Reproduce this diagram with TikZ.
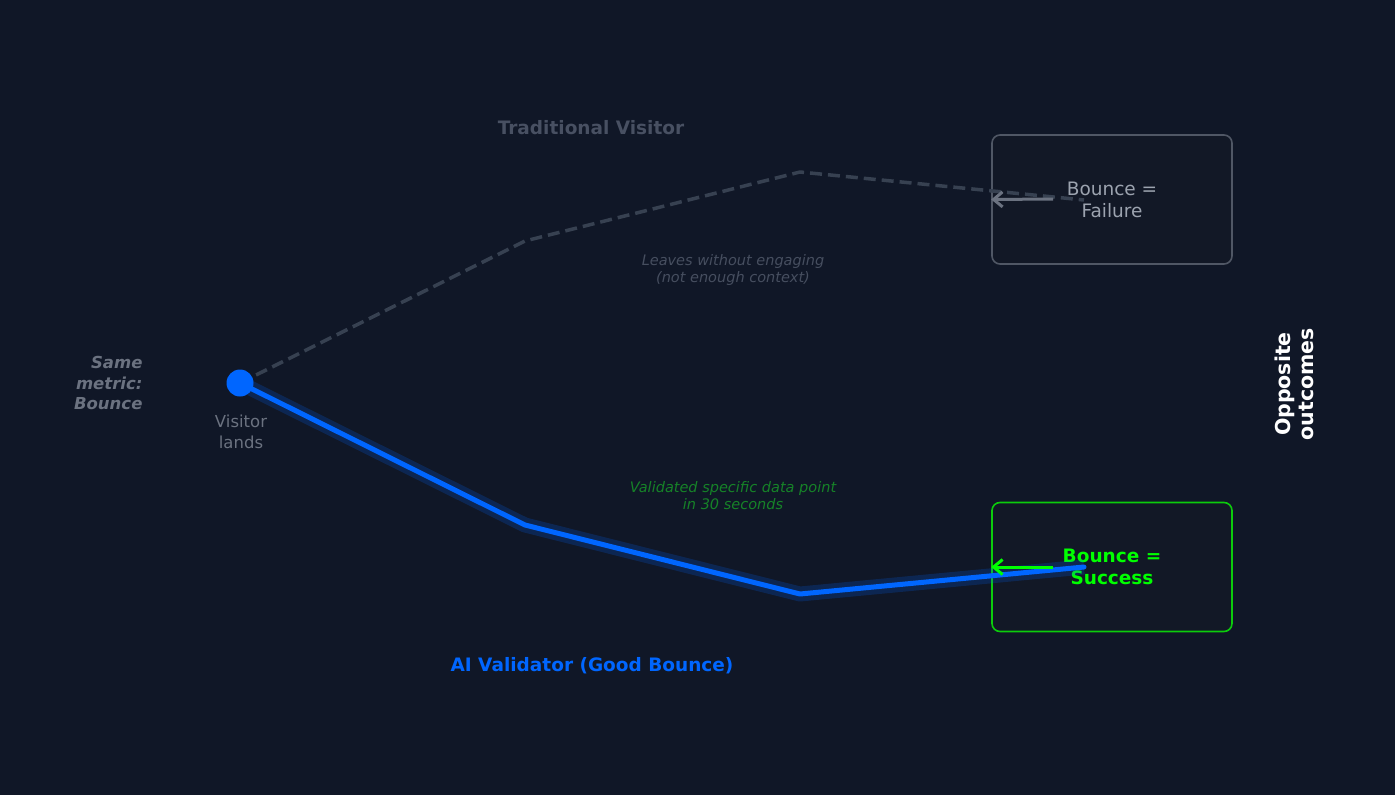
\documentclass[tikz,border=0pt]{standalone}
\usepackage{fontspec}
\setmainfont{DejaVu Sans}
\usetikzlibrary{arrows.meta}

\definecolor{bgdark}{RGB}{16,23,39}
\definecolor{boxdark}{RGB}{18,24,38}
\definecolor{aiblue}{RGB}{0,102,255}
\definecolor{tradgrey}{RGB}{55,65,81}
\definecolor{titlegrey}{RGB}{72,80,98}
\definecolor{notegrey}{RGB}{70,78,95}
\definecolor{midgrey}{RGB}{107,114,128}
\definecolor{lightgrey}{RGB}{156,163,175}
\definecolor{okgreen}{RGB}{0,255,0}
\definecolor{okborder}{RGB}{12,204,12}
\definecolor{notegreen}{RGB}{22,130,40}

\begin{document}
\begin{tikzpicture}
[
    x=1pt, y=-1pt,
    title/.style={font=\fontsize{18.5}{22}\selectfont\bfseries},
    note/.style={font=\fontsize{14.5}{17}\selectfont\itshape, align=center},
    outcome/.style={draw, rounded corners=8pt, fill=boxdark, line width=1.6pt,
        minimum width=240pt, minimum height=129pt, align=center,
        font=\fontsize{18.5}{22}\selectfont},
    pointer/.style={-{Straight Barb[length=9pt, width=15pt]}, line width=3pt},
]
\fill[bgdark] (0,0) rectangle (1395,795);

% outcome boxes
\node [outcome, draw=midgrey!70!bgdark, text=lightgrey] (fail) at (1112,199.5)
{Bounce =\\Failure};
\node [outcome, draw=okborder, text=okgreen, font=\fontsize{18.5}{22}\selectfont\bfseries] (success) at (1112,567)
{Bounce =\\Success};

\coordinate (trad1) at (525,241);
\coordinate (trad2) at (800,172);
\coordinate (tradend) at (1084,200);
\coordinate (ai1) at (525,525);
\coordinate (ai2) at (800,594);
\coordinate (aiend) at (1084,567);
\coordinate (start) at (240,383);

% the two paths
\draw [tradgrey, line width=3.5pt, dash pattern=on 12pt off 6pt, line join=round]
    (start) -- (trad1) -- (trad2) -- (tradend);
\draw [aiblue, opacity=0.2, line width=15pt, line join=round]
    (start) -- (ai1) -- (ai2) -- (aiend);
\draw [aiblue, line width=5pt, line join=round, line cap=round]
    (start) -- (ai1) -- (ai2) -- (aiend);

\coordinate (failtail) at (1053,199);
\coordinate (successtail) at (1053,567);
\draw [pointer, midgrey] (failtail) -- (fail.west);
\draw [pointer, okgreen] (successtail) -- (success.west);

\node [circle, fill=aiblue, inner sep=0pt, minimum size=27pt] (visitor) at (start) {};
\node [text=midgrey, align=center, font=\fontsize{16.5}{21}\selectfont] (lands) at (241,432)
{Visitor\\lands};
\node [text=midgrey, align=right, anchor=east, font=\fontsize{16.5}{20.5}\selectfont\bfseries\itshape] (metric) at (146,383)
{Same\\metric:\\Bounce};

\node [title, text=titlegrey] (tradtitle) at (591,128) {Traditional Visitor};
\node [title, text=aiblue] (aititle) at (592,666) {AI Validator (Good Bounce)};
\node [note, text=notegrey] (leaves) at (733,270)
{Leaves without engaging\\(not enough context)};
\node [note, text=notegreen] (validated) at (733,496)
{Validated specific data point\\in 30 seconds};
\node [rotate=90, align=center, text=white, font=\fontsize{20.5}{23}\selectfont\bfseries] (opposite) at (1294,384)
{Opposite\\outcomes};
\end{tikzpicture}
\end{document}
